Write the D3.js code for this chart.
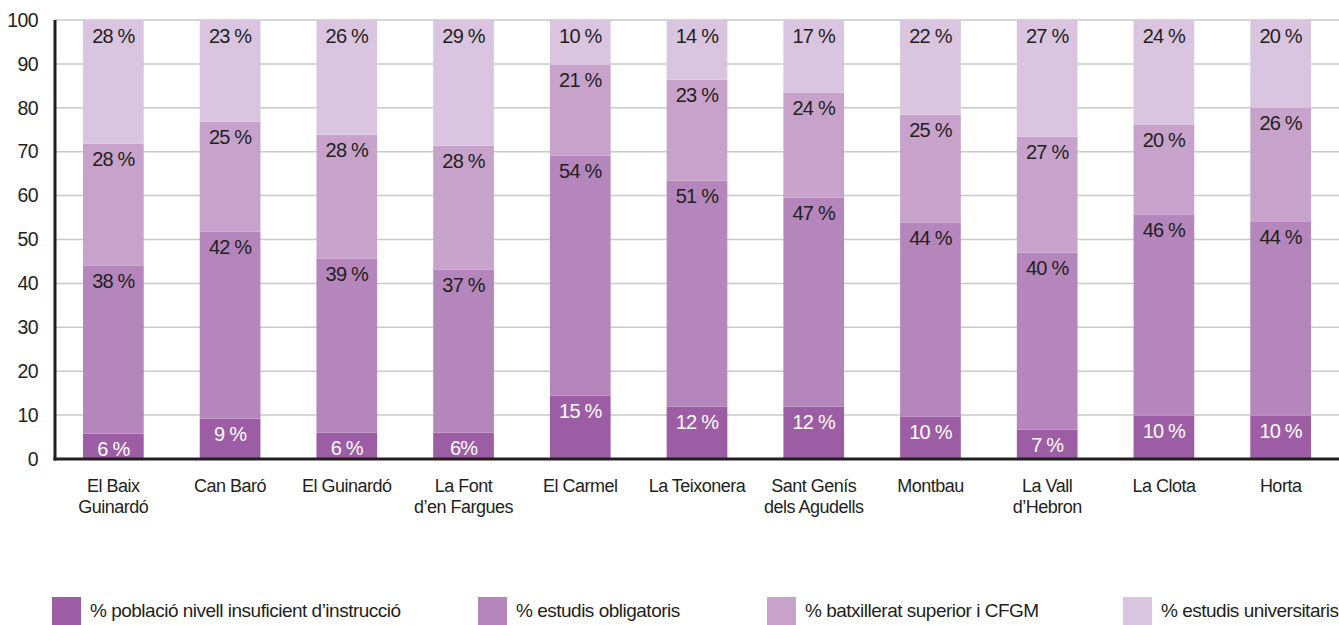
<!DOCTYPE html>
<html>
<head>
<meta charset="utf-8">
<script src="https://cdn.jsdelivr.net/npm/d3@7"></script>
<style>
  body { margin: 0; background: #fff; }
  svg text { font-family: "Liberation Sans", Arial, sans-serif; }
</style>
</head>
<body>
<div id="viz"></div>
<script>
// barris (two-line labels split by "|")
var barris = ["El Baix|Guinardó", "Can Baró", "El Guinardó", "La Font|d’en Fargues", "El Carmel",
              "La Teixonera", "Sant Genís|dels Agudells", "Montbau", "La Vall|d’Hebron", "La Clota", "Horta"];

// values (%)
var insuficient  = [5.8, 9.2, 6.0, 6.0, 14.4, 11.9, 11.9, 9.6, 6.7, 9.9, 9.9];
var obligatoris  = [38.3, 42.6, 39.6, 37.1, 54.7, 51.5, 47.6, 44.3, 40.3, 45.7, 44.1];
var batxillerat  = [27.7, 25.0, 28.3, 28.3, 20.7, 23.0, 23.9, 24.5, 26.4, 20.5, 26.0];
var universitaris = [28.2, 23.2, 26.1, 28.6, 10.2, 13.6, 16.6, 21.6, 26.6, 23.9, 20.0];

// printed labels
var lblInsuficient  = ["6 %", "9 %", "6 %", "6%", "15 %", "12 %", "12 %", "10 %", "7 %", "10 %", "10 %"];
var lblObligatoris  = ["38 %", "42 %", "39 %", "37 %", "54 %", "51 %", "47 %", "44 %", "40 %", "46 %", "44 %"];
var lblBatxillerat  = ["28 %", "25 %", "28 %", "28 %", "21 %", "23 %", "24 %", "25 %", "27 %", "20 %", "26 %"];
var lblUniversitaris = ["28 %", "23 %", "26 %", "29 %", "10 %", "14 %", "17 %", "22 %", "27 %", "24 %", "20 %"];

var seriesNames = ["% població nivell insuficient d’instrucció", "% estudis obligatoris",
                   "% batxillerat superior i CFGM", "% estudis universitaris"];
var colors = ["#9d5da5", "#b586bb", "#c7a3cb", "#dac5e0"];
var textColors = ["#ffffff", "#231f20", "#231f20", "#231f20"];
var yTicks = [0, 10, 20, 30, 40, 50, 60, 70, 80, 90, 100];

var width = 1339, height = 625;
var margin = {left: 55, right: 0, top: 20, bottom: 166};

var rows = barris.map(function(b, i) {
  return {barri: b, s0: insuficient[i], s1: obligatoris[i], s2: batxillerat[i], s3: universitaris[i], i: i};
});
var labels = [lblInsuficient, lblObligatoris, lblBatxillerat, lblUniversitaris];
var keys = ["s0", "s1", "s2", "s3"];

var stacked = d3.stack().keys(keys)(rows);

var svg = d3.select("#viz").append("svg")
    .attr("width", width)
    .attr("height", height);

var x = d3.scaleBand()
    .domain(barris)
    .range([margin.left, width - margin.right])
    .paddingInner(0.48)
    .paddingOuter(0.24);

var y = d3.scaleLinear()
    .domain([0, 100])
    .range([height - margin.bottom, margin.top]);

// gridlines
svg.append("g")
  .selectAll("line")
  .data(yTicks.filter(function(t) { return t > 0; }))
  .enter().append("line")
    .attr("x1", margin.left)
    .attr("x2", width)
    .attr("y1", function(d) { return y(d); })
    .attr("y2", function(d) { return y(d); })
    .style("stroke", "#c9c9c9")
    .style("stroke-width", 1.5);

// y axis labels
var yAxis = svg.append("g")
    .attr("transform", "translate(" + margin.left + ",0)")
    .call(d3.axisLeft(y).tickValues(yTicks).tickSize(0).tickPadding(17));
yAxis.select(".domain").remove();
yAxis.selectAll("text")
    .style("font-size", "19.5px")
    .style("letter-spacing", "-0.6px")
    .style("fill", "#231f20");

// bars
var layer = svg.append("g").selectAll("g")
  .data(stacked)
  .enter().append("g")
    .style("fill", function(d, k) { return colors[k]; });

layer.selectAll("rect")
  .data(function(d) { return d; })
  .enter().append("rect")
    .attr("x", function(d) { return x(d.data.barri); })
    .attr("width", x.bandwidth())
    .attr("y", function(d) { return y(d[1]); })
    .attr("height", function(d) { return y(d[0]) - y(d[1]); });

// segment labels
stacked.forEach(function(serie, k) {
  svg.append("g").selectAll("text")
    .data(serie)
    .enter().append("text")
      .attr("x", function(d) { return x(d.data.barri) + x.bandwidth() / 2; })
      .attr("y", function(d) { return y(d[1]) + 22.5; })
      .attr("text-anchor", "middle")
      .style("font-size", "20px")
      .style("letter-spacing", "-0.8px")
      .style("fill", textColors[k])
      .text(function(d) { return labels[k][d.data.i]; });
});

// axis lines
svg.append("line")
    .attr("x1", margin.left).attr("x2", margin.left)
    .attr("y1", y(100)).attr("y2", y(0) + 1.5)
    .style("stroke", "#231f20").style("stroke-width", 3);
svg.append("line")
    .attr("x1", margin.left - 1.5).attr("x2", width)
    .attr("y1", y(0)).attr("y2", y(0))
    .style("stroke", "#231f20").style("stroke-width", 3);

// x labels
var xl = svg.append("g").selectAll("text")
  .data(barris)
  .enter().append("text")
    .attr("x", function(d) { return x(d) + x.bandwidth() / 2; })
    .attr("y", y(0) + 33)
    .attr("text-anchor", "middle")
    .style("font-size", "18px")
    .style("letter-spacing", "-0.5px")
    .style("fill", "#231f20");
xl.each(function(d) {
  var parts = d.split("|");
  var t = d3.select(this);
  parts.forEach(function(p, j) {
    t.append("tspan")
      .attr("x", t.attr("x"))
      .attr("dy", j === 0 ? 0 : 21)
      .text(p);
  });
});

// legend
var legendX = [52, 478, 767, 1123];
var legend = svg.append("g").selectAll("g")
  .data(seriesNames)
  .enter().append("g")
    .attr("transform", function(d, k) { return "translate(" + legendX[k] + ",597)"; });
legend.append("rect")
    .attr("width", 29)
    .attr("height", 28)
    .style("fill", function(d, k) { return colors[k]; });
legend.append("text")
    .attr("x", 38)
    .attr("y", 20)
    .style("font-size", "19px")
    .style("letter-spacing", "-0.5px")
    .style("fill", "#231f20")
    .text(function(d) { return d; });
</script>
</body>
</html>
